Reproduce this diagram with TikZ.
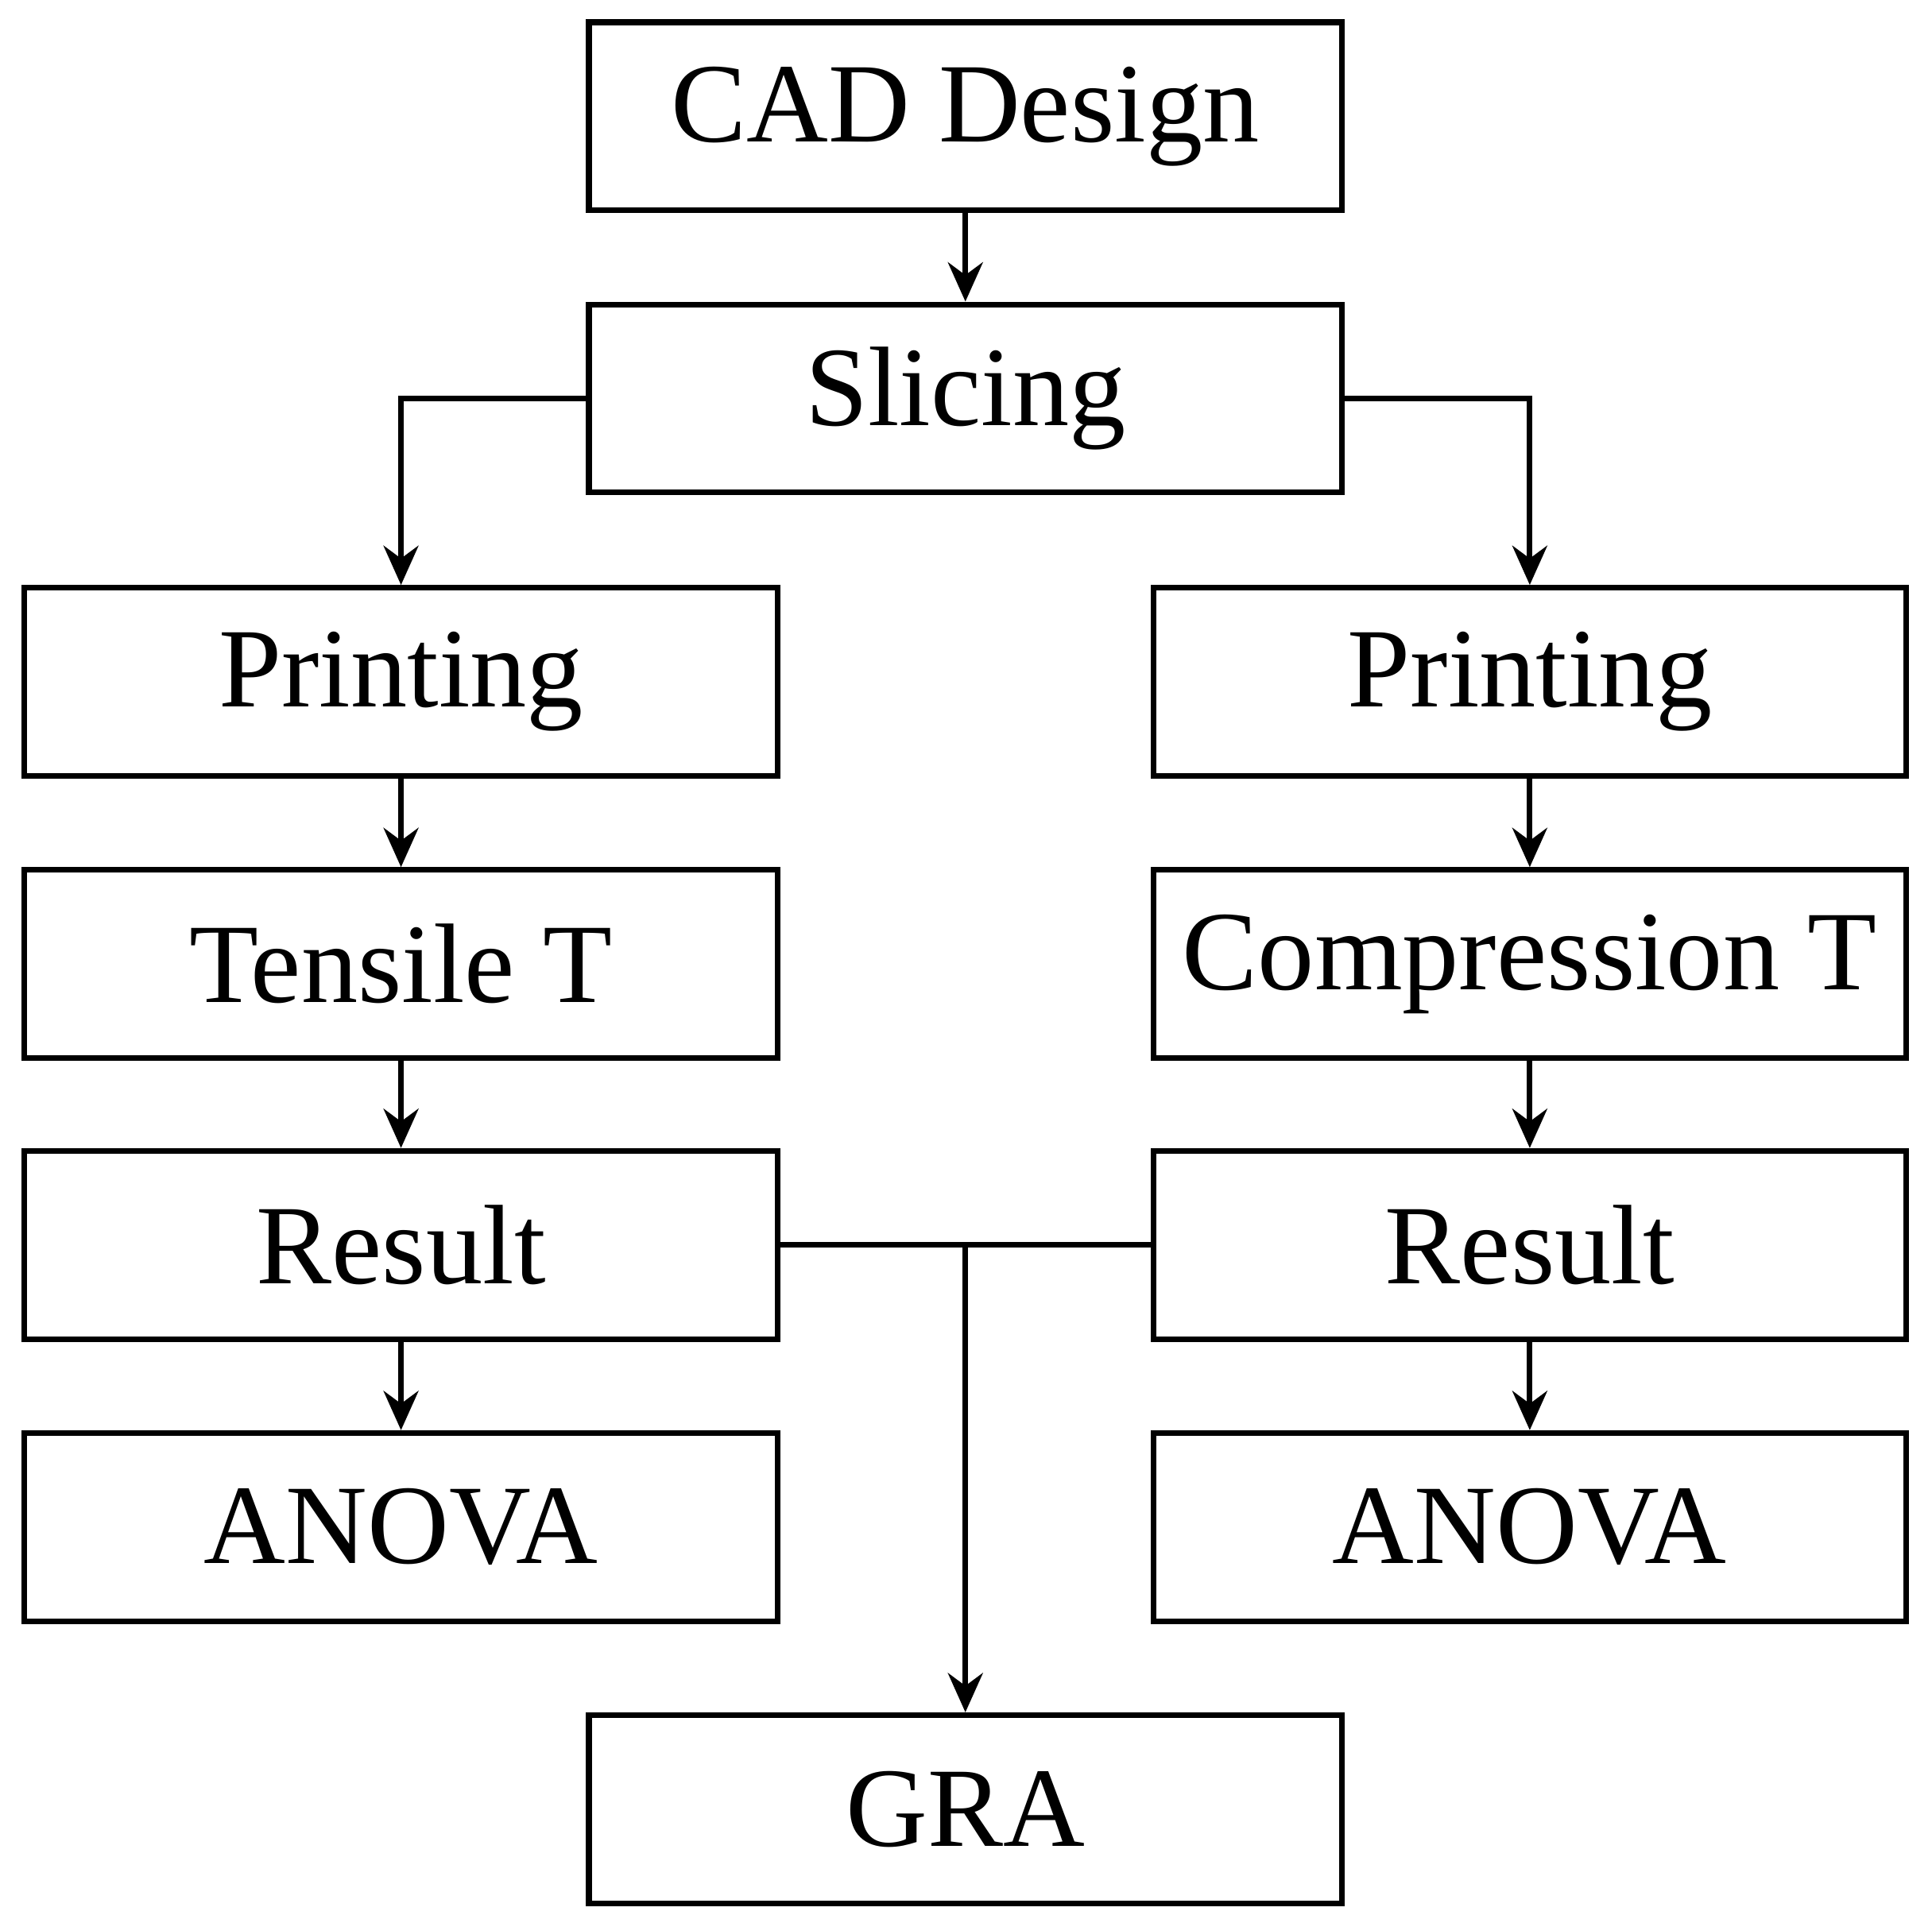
\documentclass[tikz,border=0pt]{standalone}
\usepackage{fontspec}
\setmainfont{Liberation Serif}
\usetikzlibrary{arrows.meta}
\begin{document}
\begin{tikzpicture}[x=0.01cm,y=-0.01cm,
  box/.style={draw,line width=1.3pt,minimum width=6.08cm,minimum height=1.52cm,inner sep=0pt,font=\fontsize{26}{30}\selectfont},
  arr/.style={line width=1.3pt,-{Stealth[length=9pt,width=8pt]}},
  ln/.style={line width=1.3pt}]
\useasboundingbox (0,0) rectangle (1561,1547);
\node[box] (cad) at (780,94) {CAD Design};
\node[box] (sl) at (780,322) {Slicing};
\node[box] (pl) at (324,551) {Printing};
\node[box] (pr) at (1236,551) {Printing};
\node[box] (tl) at (324,779) {Tensile T};
\node[box] (cr) at (1236,779) {Compression T};
\node[box] (rl) at (324,1006) {Result};
\node[box] (rr) at (1236,1006) {Result};
\node[box] (al) at (324,1234) {ANOVA};
\node[box] (ar) at (1236,1234) {ANOVA};
\node[box] (gra) at (780,1462) {GRA};
\coordinate (j) at (780,1006);
\draw[arr] (cad) -- (sl);
\draw[arr] (sl.west) -| (pl.north);
\draw[arr] (sl.east) -| (pr.north);
\draw[arr] (pl) -- (tl);
\draw[arr] (tl) -- (rl);
\draw[arr] (rl) -- (al);
\draw[arr] (pr) -- (cr);
\draw[arr] (cr) -- (rr);
\draw[arr] (rr) -- (ar);
\draw[ln] (rl.east) -- (rr.west);
\draw[arr] (j) -- (gra.north);
\end{tikzpicture}
\end{document}
